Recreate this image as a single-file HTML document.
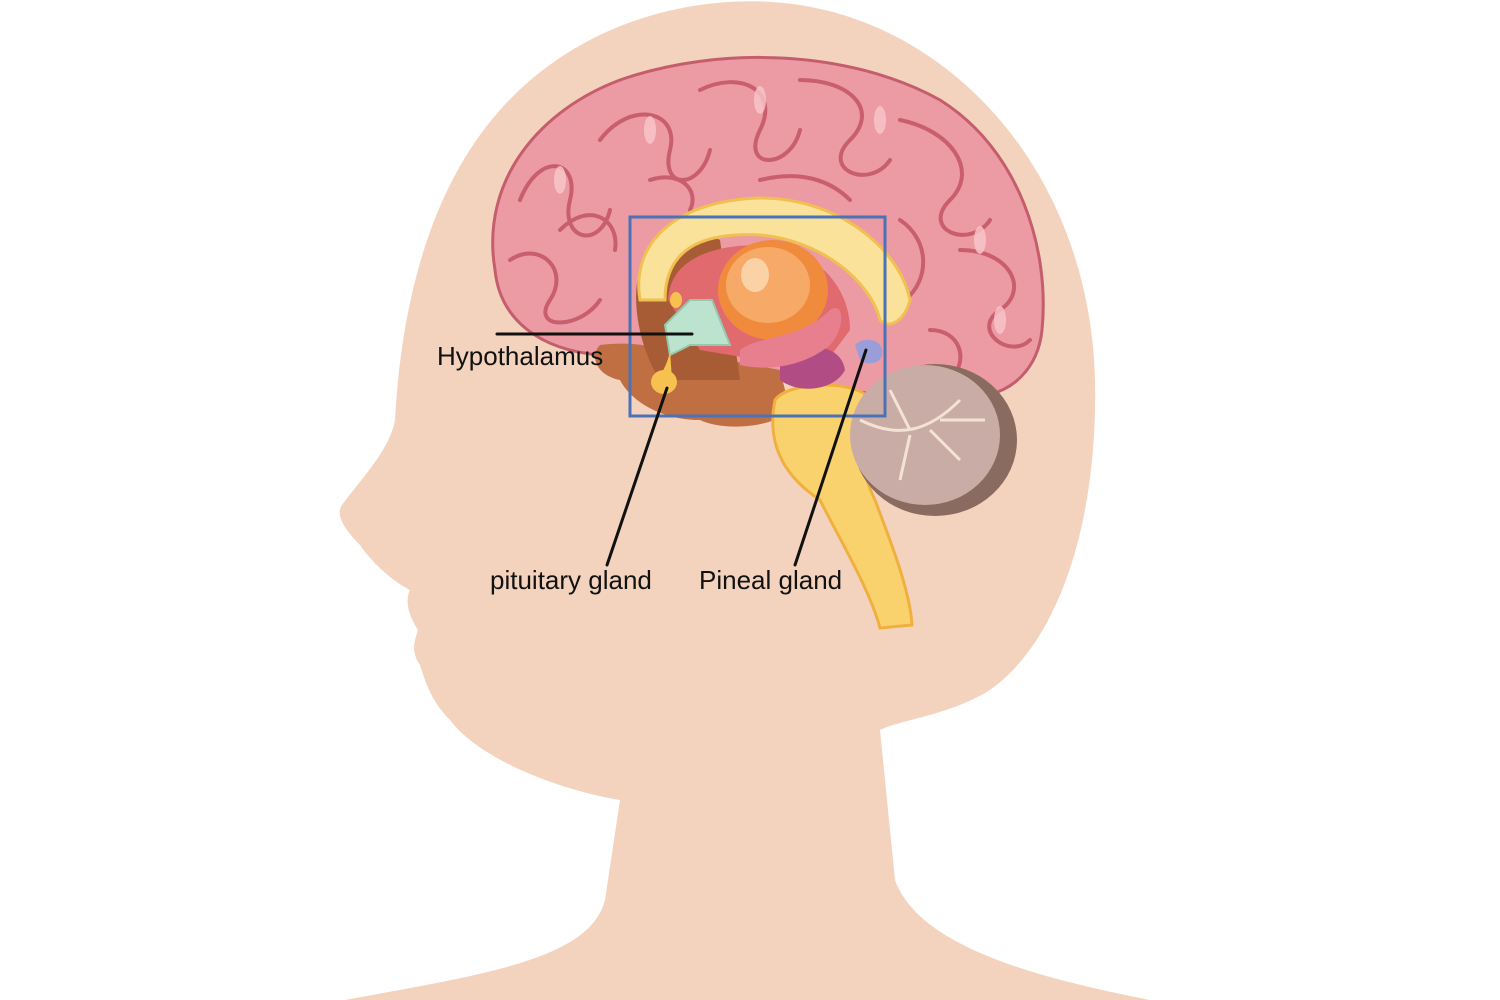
<!DOCTYPE html>
<html><head><meta charset="utf-8"><style>
body{margin:0;background:#fff;width:1500px;height:1000px;overflow:hidden}
svg{display:block}
text{font-family:"Liberation Sans",sans-serif;font-size:26px;fill:#111}
</style></head><body>
<svg width="1500" height="1000" viewBox="0 0 1500 1000">
<path d="M345,1000 C480,975 590,960 605,900 L620,800 C560,790 480,760 450,720 C430,700 425,680 420,665 C410,650 415,640 418,630 C408,615 405,600 410,590 C390,580 370,560 360,545 C345,530 335,515 342,505 C360,480 390,450 395,420 C400,330 420,200 500,110 C580,20 700,-10 800,5 C960,30 1090,180 1095,380 C1098,520 1060,640 990,690 C950,715 900,720 880,730 L895,880 C920,950 1050,980 1150,1000 Z" fill="#F3D3BE"/>
<path d="M600,355 C540,350 500,320 495,270 C480,180 540,110 620,80 C720,45 850,50 940,100 C1020,150 1050,250 1042,330 C1038,370 1010,392 985,395 L880,395 L780,380 Z" fill="#EC9AA3" stroke="#C55E6C" stroke-width="3"/>
<g fill="none" stroke="#C95E6E" stroke-width="4" stroke-linecap="round">
<path d="M520,200 C540,150 580,160 570,200 C560,240 600,250 610,210"/>
<path d="M600,140 C630,100 680,110 670,150 C660,190 700,190 710,150"/>
<path d="M700,90 C740,70 780,90 760,130 C740,170 790,170 800,130"/>
<path d="M800,80 C850,80 880,110 850,140 C820,170 870,190 890,160"/>
<path d="M900,120 C950,130 980,170 950,200 C920,230 970,250 990,220"/>
<path d="M960,250 C1010,250 1030,290 1000,310 C970,330 1010,360 1030,340"/>
<path d="M510,260 C540,240 570,270 550,300 C530,330 580,330 600,300"/>
<path d="M560,230 C590,200 620,220 615,250"/>
<path d="M900,220 C930,240 930,280 905,300"/>
<path d="M930,330 C960,330 970,360 950,380"/>
<path d="M650,180 C680,170 700,190 690,210"/>
<path d="M760,180 C800,170 830,180 850,200"/>
</g>
<g fill="#F9C8CB" opacity="0.8">
<ellipse cx="560" cy="180" rx="6" ry="14"/><ellipse cx="650" cy="130" rx="6" ry="14"/><ellipse cx="760" cy="100" rx="6" ry="14"/><ellipse cx="880" cy="120" rx="6" ry="14"/><ellipse cx="980" cy="240" rx="6" ry="14"/><ellipse cx="1000" cy="320" rx="6" ry="14"/>
</g>
<path d="M600,345 C640,340 660,350 700,355 L780,370 L790,410 C770,430 720,430 700,420 C660,420 630,400 620,380 C595,375 590,355 600,345 Z" fill="#C06F42"/>
<path d="M640,270 C650,240 700,230 720,240 L740,380 L660,380 C640,350 630,300 640,270 Z" fill="#A85C35"/>
<path d="M775,400 C790,380 860,380 870,400 C860,440 860,470 875,500 C890,540 910,590 912,625 L880,628 C870,590 840,540 820,500 C790,480 765,450 775,400 Z" fill="#F9D26E" stroke="#F0B040" stroke-width="3"/>
<ellipse cx="935" cy="440" rx="82" ry="76" fill="#8A6B5F"/>
<ellipse cx="925" cy="435" rx="75" ry="70" fill="#C9ACA5"/>
<g stroke="#F4E3D4" stroke-width="3" fill="none"><path d="M860,420 C900,440 930,430 960,400"/><path d="M910,435 L900,480"/><path d="M930,430 L960,460"/><path d="M910,430 L890,390"/><path d="M940,420 L985,420"/></g>
<path d="M640,300 C630,240 680,200 760,198 C840,198 900,250 910,300 C905,320 890,330 880,320 C870,280 820,240 760,235 C700,232 665,250 665,300 Z" fill="#FAE29A" stroke="#F0C050" stroke-width="3"/>
<path d="M668,300 C670,260 710,245 760,245 C820,248 850,290 850,330 L820,370 L700,350 Z" fill="#E06A6E"/>
<ellipse cx="773" cy="290" rx="55" ry="50" fill="#F08A3C"/>
<ellipse cx="768" cy="285" rx="42" ry="38" fill="#F7A968"/>
<ellipse cx="755" cy="275" rx="14" ry="17" fill="#FBD2A5"/>
<path d="M780,355 C800,345 840,340 845,370 C835,390 800,395 780,380 Z" fill="#B24C84"/>
<path d="M740,350 C760,335 800,340 830,310 C845,300 845,330 830,345 C800,370 760,370 740,365 Z" fill="#E87F8E"/>
<path d="M665,325 L690,300 L712,300 L730,345 L690,345 L670,355 Z" fill="#BCE3CE" stroke="#94C9B0" stroke-width="2"/>
<path d="M670,350 C668,365 660,375 655,385 C660,395 675,395 672,380" fill="#F6C14E"/>
<ellipse cx="664" cy="382" rx="13" ry="12" fill="#F6C14E"/>
<ellipse cx="676" cy="300" rx="6" ry="8" fill="#F6C14E"/>
<path d="M855,345 C865,335 885,340 882,355 C880,365 865,365 860,360 Z" fill="#9A9ED8"/>
<rect x="630" y="217" width="255" height="199" fill="none" stroke="#4A72B6" stroke-width="3"/>
<g stroke="#111" stroke-width="3" stroke-linecap="round">
<line x1="497" y1="334" x2="692" y2="334"/>
<line x1="667" y1="388" x2="607" y2="565"/>
<line x1="866" y1="350" x2="795" y2="565"/>
</g>
<text x="437" y="365">Hypothalamus</text>
<text x="490" y="589">pituitary gland</text>
<text x="699" y="589">Pineal gland</text>
</svg>
</body></html>
